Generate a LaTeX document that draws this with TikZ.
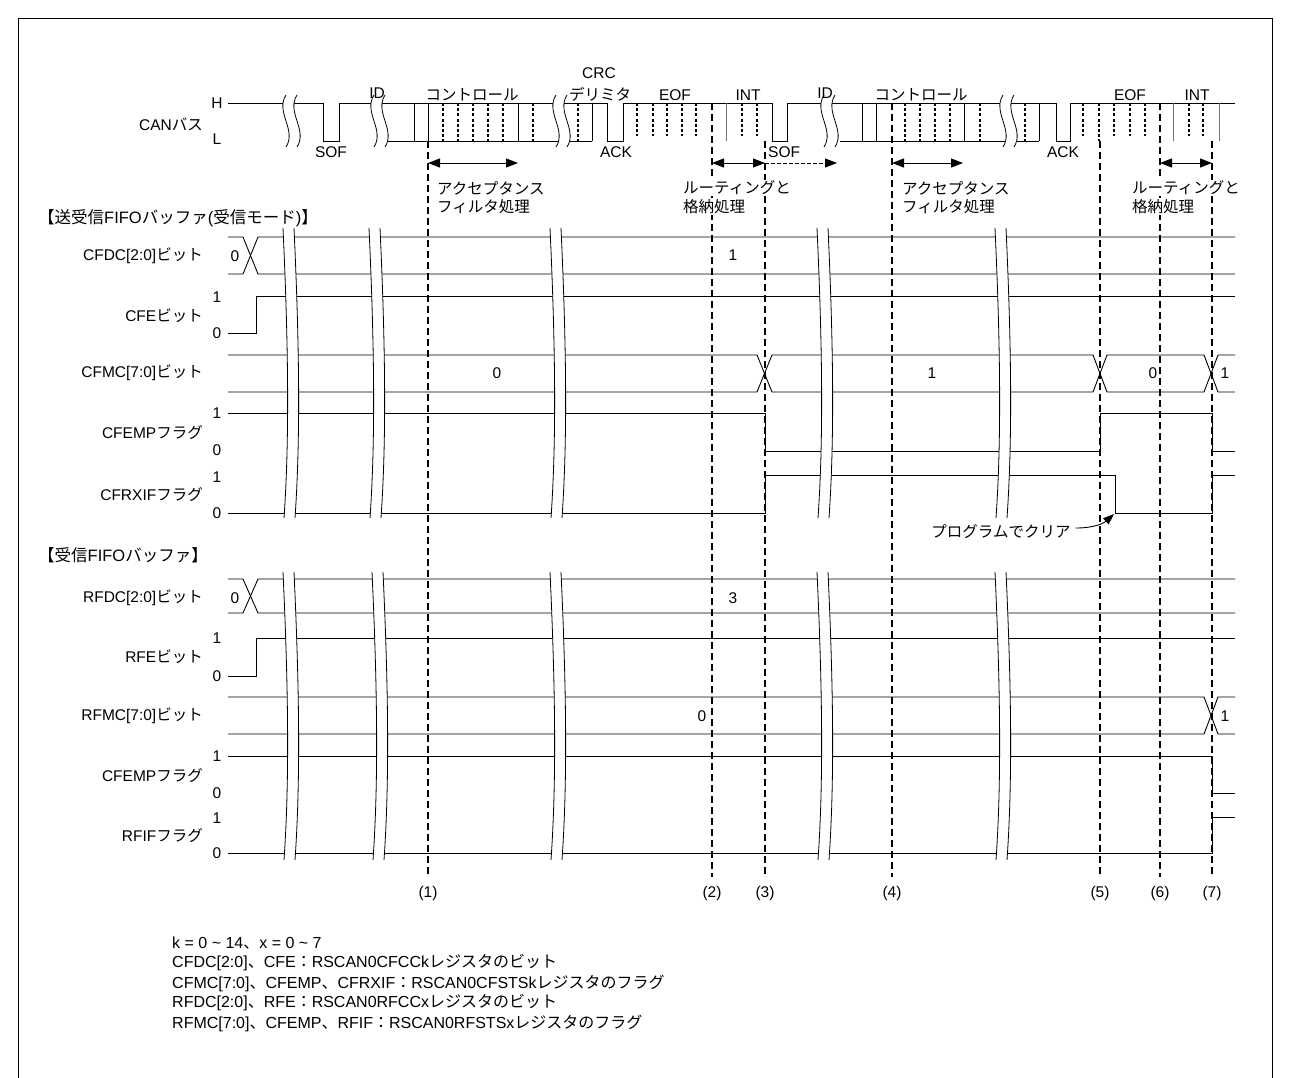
\documentclass[tikz,border=0pt]{standalone}
\usepackage{fontspec}
\setmainfont{Liberation Sans}
\newfontfamily\jpf{Noto Sans CJK JP}
\usetikzlibrary{arrows.meta}
\newcommand\jp[1]{{\jpf #1}}
\newcommand\fsz{\fontsize{15.5}{18}\selectfont}
\newcommand\nsz{\fontsize{16}{18}\selectfont}
\newcommand\tsz{\fontsize{16.5}{18}\selectfont}
% row break: #1 = x of left curve top, #2 = top y, #3 = bottom y
\newcommand\tbreak[3]{%
  \fill[white] (#1,#2) .. controls ({#1+6},{#2+0.45*(#3-#2)}) and ({#1+6},{#2+0.75*(#3-#2)}) .. ({#1+1},#3)
     -- ({#1+12},#3) .. controls ({#1+17},{#2+0.75*(#3-#2)}) and ({#1+17},{#2+0.45*(#3-#2)}) .. ({#1+11},#2) -- cycle;
  \draw[brk] (#1,#2) .. controls ({#1+6},{#2+0.45*(#3-#2)}) and ({#1+6},{#2+0.75*(#3-#2)}) .. ({#1+1},#3);
  \draw[brk] ({#1+11},#2) .. controls ({#1+17},{#2+0.45*(#3-#2)}) and ({#1+17},{#2+0.75*(#3-#2)}) .. ({#1+12},#3);}
% bus break: #1 = centre x
\newcommand\cbreak[1]{%
  \fill[white] ({#1-3},95) .. controls ({#1-14},112) and ({#1+8},130) .. ({#1-3},147)
     -- ({#1+8},147) .. controls ({#1+19},130) and ({#1-3},112) .. ({#1+8},95) -- cycle;
  \draw[brk] ({#1-3},95) .. controls ({#1-14},112) and ({#1+8},130) .. ({#1-3},147);
  \draw[brk] ({#1+8},95) .. controls ({#1-3},112) and ({#1+19},130) .. ({#1+8},147);}
\begin{document}
\begin{tikzpicture}[x=1pt,y=-1pt,
  sig/.style={line width=0.9pt},
  gsig/.style={line width=0.9pt, black!55},
  brk/.style={line width=0.8pt},
  vdash/.style={line width=1.7pt, dash pattern=on 7pt off 4pt},
  vdot/.style={line width=1.4pt, dash pattern=on 3pt off 2.2pt},
  dbl/.style={line width=1pt, {Triangle[length=12pt,width=9pt]}-{Triangle[length=12pt,width=9pt]}},
  sarr/.style={line width=1pt, dash pattern=on 4pt off 2pt, -{Triangle[length=12pt,width=9pt]}},
  txt/.style={inner sep=0pt, font=\fsz},
  rlab/.style={txt, anchor=east},
  wtxt/.style={txt, anchor=west, fill=white, inner sep=1pt},
  note/.style={inner sep=0pt, font=\nsz, anchor=west},
  ttl/.style={inner sep=0pt, font=\tsz, anchor=west},
  ]
\useasboundingbox (0,0) rectangle (1290,1077);
\draw[line width=0.8pt] (18,1090) -- (18,18) -- (1272,18) -- (1272,1090);

% ---------------- CAN bus ----------------
\node[rlab] (canl) at (203,124) {CAN\jp{バス}};
\node[txt] (hl) at (217,103) {H};
\node[txt] (ll) at (217,139) {L};
\draw[sig] (228,103) -- (323,103) -- (323,141) -- (339,141) -- (339,103) -- (607,103) -- (607,141)
  -- (623,141) -- (623,103) -- (772,103) -- (772,141) -- (787,141) -- (787,103) -- (1056,103)
  -- (1056,141) -- (1070,141) -- (1070,103) -- (1235,103);
\draw[sig] (382,141) -- (592,141);
\draw[sig] (840,141) -- (1039,141);
\foreach \x in {414,428,518,592,862,876,964,1039} \draw[sig] (\x,103) -- (\x,141);
\foreach \x in {726,1173,1219} \draw[gsig] (\x,103) -- (\x,141);
\foreach \x in {443,458,473,488,503,533,578,905,920,935,950,980,1025,1099} \draw[vdot] (\x,103) -- (\x,141);
\foreach \x in {637,653,667,682,696,742,757,1083,1114,1130,1145,1189,1203} \draw[vdot] (\x,103) -- (\x,136);
\cbreak{289}
\cbreak{377}
\cbreak{559}
\cbreak{827}
\cbreak{1006}

\node[txt] (id1) at (377,93) {ID};
\node[txt] (ctl1) at (472,95) {\jp{コントロール}};
\node[txt] (crc) at (599,73) {CRC};
\node[txt] (dlm) at (600,94) {\jp{デリミタ}};
\node[txt] (eof1) at (675,95) {EOF};
\node[txt] (int1) at (748,95) {INT};
\node[txt] (sof1) at (331,152) {SOF};
\node[txt] (ack1) at (616,152) {ACK};
\node[txt] (id2) at (825,93) {ID};
\node[txt] (ctl2) at (921,95) {\jp{コントロール}};
\node[txt] (ack2) at (1063,152) {ACK};
\node[txt] (eof2) at (1130,95) {EOF};
\node[txt] (int2) at (1197,95) {INT};

% ---------------- timing rows (upper) ----------------
\node[ttl] (t1) at (38,218) {\jp{【送受信}FIFO\jp{バッファ}(\jp{受信モード})\jp{】}};
\node[rlab] (r1) at (203,256) {CFDC[2:0]\jp{ビット}};
\node[rlab] (r2) at (203,316) {CFE\jp{ビット}};
\node[rlab] (r3) at (203,373) {CFMC[7:0]\jp{ビット}};
\node[rlab] (r4) at (203,433) {CFEMP\jp{フラグ}};
\node[rlab] (r5) at (203,495) {CFRXIF\jp{フラグ}};
\foreach \y/\v in {297/1,333/0,413/1,450/0,477/1,513/0} \node[txt] at (217,\y) {\v};

\draw[sig] (228,237) -- (243,237) -- (258,274) -- (1235,274);
\draw[sig] (228,274) -- (243,274) -- (258,237) -- (1235,237);
\draw[sig] (228,333) -- (256,333) -- (256,296) -- (1235,296);
\draw[sig] (228,355) -- (757,355) -- (772,392) -- (1093,392) -- (1107,355) -- (1204,355) -- (1218,392) -- (1235,392);
\draw[sig] (228,392) -- (757,392) -- (772,355) -- (1093,355) -- (1107,392) -- (1204,392) -- (1218,355) -- (1235,355);
\draw[sig] (228,413) -- (765,413) -- (765,451) -- (1100,451) -- (1100,413) -- (1212,413) -- (1212,451) -- (1235,451);
\draw[sig] (228,513) -- (765,513) -- (765,475) -- (1115,475) -- (1115,513) -- (1212,513) -- (1212,475) -- (1235,475);
\foreach \x in {283,369,550,817,995} {\tbreak{\x}{228}{518}}

\node[txt] at (235,256) {0};
\node[txt] at (733,255) {1};
\node[txt] at (497,373) {0};
\node[txt] at (932,373) {1};
\node[txt] at (1153,373) {0};
\node[txt] at (1225,373) {1};

% ---------------- timing rows (lower) ----------------
\node[ttl] (t2) at (38,555) {\jp{【受信}FIFO\jp{バッファ】}};
\node[rlab] (s1) at (203,598) {RFDC[2:0]\jp{ビット}};
\node[rlab] (s2) at (203,657) {RFE\jp{ビット}};
\node[rlab] (s3) at (203,716) {RFMC[7:0]\jp{ビット}};
\node[rlab] (s4) at (203,776) {CFEMP\jp{フラグ}};
\node[rlab] (s5) at (203,836) {RFIF\jp{フラグ}};
\foreach \y/\v in {638/1,676/0,756/1,793/0,818/1,853/0} \node[txt] at (217,\y) {\v};

\draw[sig] (228,579) -- (243,579) -- (258,613) -- (1235,613);
\draw[sig] (228,613) -- (243,613) -- (258,579) -- (1235,579);
\draw[sig] (228,676) -- (256,676) -- (256,638) -- (1235,638);
\draw[sig] (228,697) -- (1204,697) -- (1218,734) -- (1235,734);
\draw[sig] (228,734) -- (1204,734) -- (1218,697) -- (1235,697);
\draw[sig] (228,756) -- (1212,756) -- (1212,793) -- (1235,793);
\draw[sig] (228,853) -- (1212,853) -- (1212,817) -- (1235,817);
\foreach \x in {283,372,550,817,995} {\tbreak{\x}{572}{860}}

\node[txt] at (235,598) {0};
\node[txt] at (733,598) {3};
\node[txt] at (702,716) {0};
\node[txt] at (1225,716) {1};

% ---------------- event lines ----------------
\draw[vdash] (428,141) -- (428,877);
\draw[vdash] (712,103) -- (712,877);
\draw[vdash] (765,141) -- (765,877);
\draw[vdash] (892,103) -- (892,877);
\draw[vdash] (1100,141) -- (1100,877);
\draw[vdash] (1160,103) -- (1160,877);
\draw[vdash] (1212,141) -- (1212,877);

\node[txt] (e1) at (428,893) {(1)};
\node[txt] (e2) at (712,893) {(2)};
\node[txt] (e3) at (765,893) {(3)};
\node[txt] (e4) at (892,893) {(4)};
\node[txt] (e5) at (1100,893) {(5)};
\node[txt] (e6) at (1160,893) {(6)};
\node[txt] (e7) at (1212,893) {(7)};

% ---------------- processing arrows ----------------
\coordinate (a1l) at (428,163); \coordinate (a1r) at (518,163);
\coordinate (b1l) at (712,163); \coordinate (b1r) at (765,163); \coordinate (b1d) at (837,163);
\coordinate (a2l) at (892,163); \coordinate (a2r) at (963,163);
\coordinate (b2l) at (1160,163); \coordinate (b2r) at (1212,163);
\draw[dbl] (a1l) -- (a1r);
\draw[dbl] (b1l) -- (b1r);
\draw[sarr] (b1r) -- (b1d);
\draw[dbl] (a2l) -- (a2r);
\draw[dbl] (b2l) -- (b2r);
\node[wtxt] (sof2) at (767,152) {SOF};

\node[txt, anchor=west] (acc1a) at (437,188) {\jp{アクセプタンス}};
\node[txt, anchor=west] (acc1b) at (437,207) {\jp{フィルタ処理}};
\node[txt, anchor=west] (acc2a) at (902,188) {\jp{アクセプタンス}};
\node[txt, anchor=west] (acc2b) at (902,207) {\jp{フィルタ処理}};
\node[wtxt] (rt1a) at (682,188) {\jp{ルーティングと}};
\node[wtxt] (rt1b) at (682,207) {\jp{格納処理}};
\node[wtxt] (rt2a) at (1131,188) {\jp{ルーティングと}};
\node[wtxt] (rt2b) at (1131,207) {\jp{格納処理}};

% ---------------- program clear ----------------
\node[txt] (clr) at (1001,532) {\jp{プログラムでクリア}};
\coordinate (clrtip) at (1114,514);
\draw[line width=0.9pt, -{Triangle[length=11pt,width=8pt]}] ([shift={(5,-4)}]clr.east) .. controls (1095,528) and (1104,523) .. (clrtip);

% ---------------- notes ----------------
\node[note] (n1) at (172,943) {k = 0 \textasciitilde{} 14\jp{、}x = 0 \textasciitilde{} 7};
\node[note] (n2) at (172,963) {CFDC[2:0]\jp{、}CFE\jp{：}RSCAN0CFCCk\jp{レジスタのビット}};
\node[note] (n3) at (172,983) {CFMC[7:0]\jp{、}CFEMP\jp{、}CFRXIF\jp{：}RSCAN0CFSTSk\jp{レジスタのフラグ}};
\node[note] (n4) at (172,1003) {RFDC[2:0]\jp{、}RFE\jp{：}RSCAN0RFCCx\jp{レジスタのビット}};
\node[note] (n5) at (172,1023) {RFMC[7:0]\jp{、}CFEMP\jp{、}RFIF\jp{：}RSCAN0RFSTSx\jp{レジスタのフラグ}};
\end{tikzpicture}
\end{document}
